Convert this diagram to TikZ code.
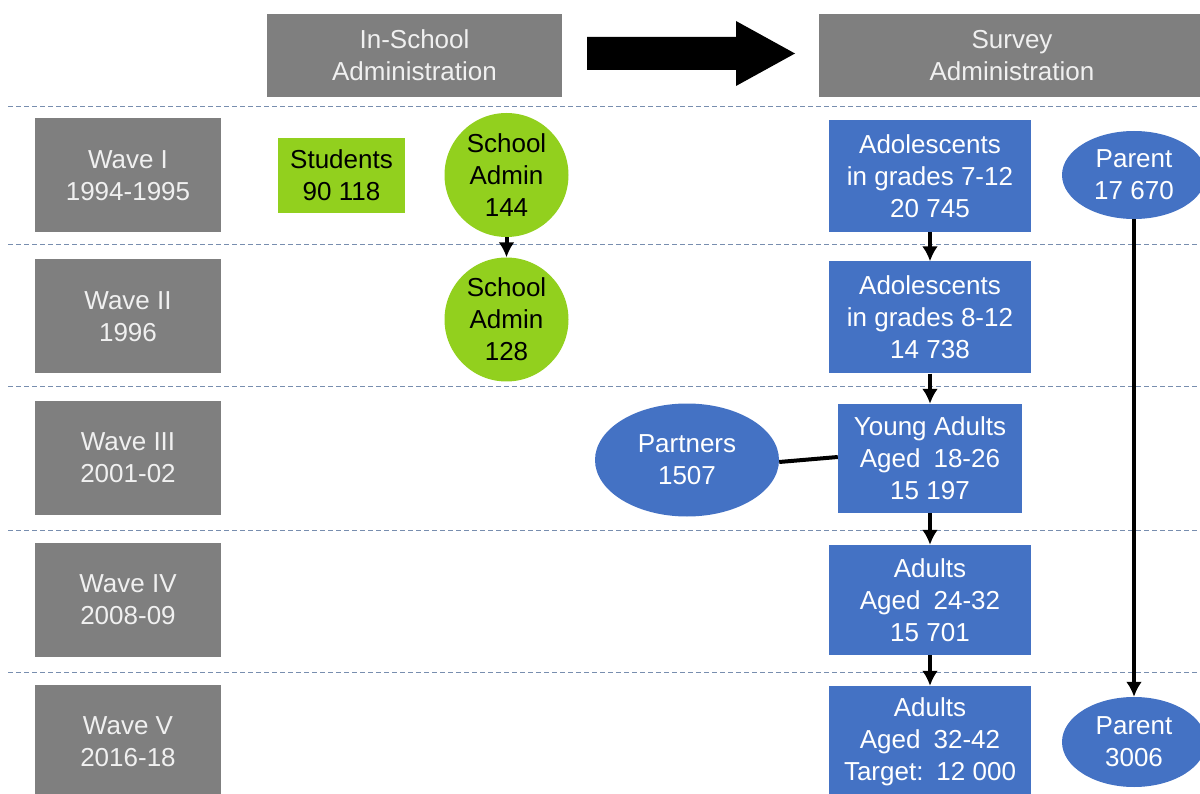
\documentclass[tikz,border=0pt]{standalone}
\usepackage{fontspec}
\setmainfont{Liberation Sans}
\usetikzlibrary{shapes.geometric, arrows.meta}

\definecolor{boxgray}{RGB}{127,127,127}
\definecolor{boxblue}{RGB}{68,114,196}
\definecolor{boxgreen}{RGB}{146,208,30}
\definecolor{linegray}{RGB}{120,142,175}

\tikzset{
	txt/.style={font=\fontsize{26}{32}\selectfont, align=center, inner sep=0pt},
	headbox/.style={txt, fill=boxgray, text=white!94!black, minimum height=83pt},
	wavebox/.style={txt, fill=boxgray, text=white!94!black, minimum width=186pt, minimum height=114pt},
	bluebox/.style={txt, fill=boxblue, text=white, minimum width=202pt, minimum height=112pt},
	blueoval/.style={txt, ellipse, fill=boxblue, text=white},
	greenbox/.style={txt, fill=boxgreen, minimum width=127pt, minimum height=75pt},
	greencirc/.style={txt, circle, fill=boxgreen, minimum size=124pt},
	flow/.style={-{Latex[length=15pt, width=16pt]}, line width=4pt},
	link/.style={line width=4pt},
	waveline/.style={linegray, line width=1pt, dash pattern=on 5pt off 3pt}
}

\begin{document}
\begin{tikzpicture}[x=1pt, y=-1pt]
	\useasboundingbox (0,0) rectangle (1200,794);
	\clip (0,0) rectangle (1200,794);
	
	%%% Шапка
	\node[headbox, minimum width=295pt] (inschool) at (414.5,55.5) {In-School\\Administration};
	\node[headbox, minimum width=386pt] (survey) at (1012,55.5) {Survey\\Administration};
	\fill (587,37) -- (736,37) -- (736,21) -- (795,53.5) -- (736,86) -- (736,70) -- (587,70) -- cycle;
	
	% Разделители волн
	\foreach \y in {107,245,387,530,672}
		\draw[waveline] (8,\y) -- (1200,\y);
	
	%%% Волны
	\node[wavebox] (wave1) at (128,175.5) {Wave I\\1994-1995};
	\node[wavebox] (wave2) at (128,316.5) {Wave II\\1996};
	\node[wavebox] (wave3) at (128,457.5) {Wave III\\2001-02};
	\node[wavebox] (wave4) at (128,599.5) {Wave IV\\2008-09};
	\node[wavebox] (wave5) at (128,742) {Wave V\\2016-18};
	
	%%% В школе
	\node[greenbox] (students) at (341.5,175.5) {Students\\90 118};
	\node[greencirc] (admin1) at (506.5,175) {School\\Admin\\144};
	\node[greencirc] (admin2) at (506.5,319.5) {School\\Admin\\128};
	
	%%% Опрос
	\node[bluebox] (teen1) at (930,176) {Adolescents\\in grades 7-12\\20 745};
	\node[bluebox] (teen2) at (930,317.5) {Adolescents\\in grades 8-12\\14 738};
	\node[bluebox, minimum width=184pt, minimum height=109pt] (young) at (930,458.5) {Young Adults\\Aged\enspace18-26\\15 197};
	\node[bluebox, minimum height=110pt] (adult4) at (930,600) {Adults\\Aged\enspace24-32\\15 701};
	\node[bluebox] (adult5) at (930,742) {Adults\\Aged\enspace32-42\\Target:\enspace12 000};
	
	\node[blueoval, minimum width=184pt, minimum height=113pt] (partners) at (687,460) {Partners\\1507};
	\node[blueoval, minimum width=144pt, minimum height=88pt] (parent1) at (1134,175) {Parent\\17 670};
	\node[blueoval, minimum width=144pt, minimum height=90pt] (parent2) at (1134,742) {Parent\\3006};
	
	%%% Связи
	\draw[flow] (admin1) -- (admin2);
	\draw[flow] (teen1) -- (teen2);
	\draw[flow] (teen2) -- (young);
	\draw[flow] (young) -- (adult4);
	\draw[flow] (adult4) -- (adult5);
	\draw[flow] (parent1) -- (parent2);
	\draw[link] ([yshift=-2pt]partners.east) -- ([yshift=1.5pt]young.west);
\end{tikzpicture}
\end{document}
